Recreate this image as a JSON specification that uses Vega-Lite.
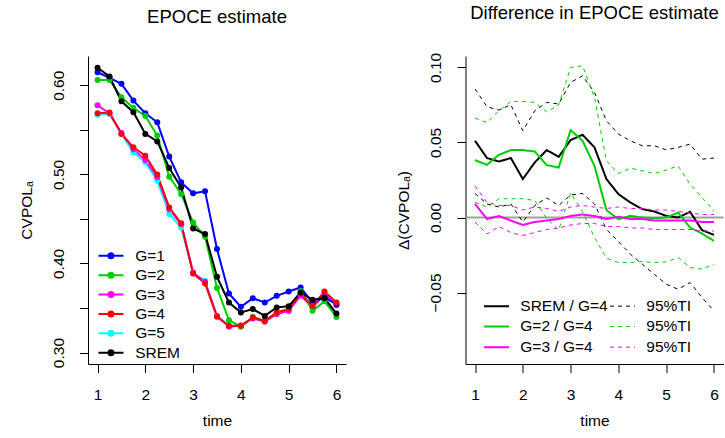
{
  "$schema": "https://vega.github.io/schema/vega-lite/v6.json",
  "padding": {"left": 19, "top": 3, "right": 0, "bottom": 0},
  "background": "white",
  "spacing": 119.5,
  "bounds": "flush",
  "resolve": {"scale": {"color": "independent", "strokeDash": "independent", "strokeWidth": "independent"}, "legend": {"color": "independent", "strokeDash": "independent", "strokeWidth": "independent"}},
  "datasets": {
    "L": [
      {"t":1,"g":"G=5","v":0.567},{"t":1.25,"g":"G=5","v":0.568},{"t":1.5,"g":"G=5","v":0.545},{"t":1.75,"g":"G=5","v":0.5247},{"t":2,"g":"G=5","v":0.5135},{"t":2.25,"g":"G=5","v":0.493},{"t":2.5,"g":"G=5","v":0.4555},{"t":2.75,"g":"G=5","v":0.4404},{"t":3,"g":"G=5","v":0.389},{"t":3.25,"g":"G=5","v":0.3806},{"t":3.5,"g":"G=5","v":0.341},{"t":3.75,"g":"G=5","v":0.33},{"t":4,"g":"G=5","v":0.33},{"t":4.25,"g":"G=5","v":0.339},{"t":4.5,"g":"G=5","v":0.335},{"t":4.75,"g":"G=5","v":0.344},{"t":5,"g":"G=5","v":0.348},{"t":5.25,"g":"G=5","v":0.367},{"t":5.5,"g":"G=5","v":0.352},{"t":5.75,"g":"G=5","v":0.367},{"t":6,"g":"G=5","v":0.356},
      {"t":1,"g":"G=3","v":0.5775},{"t":1.25,"g":"G=3","v":0.5683},{"t":1.5,"g":"G=3","v":0.5464},{"t":1.75,"g":"G=3","v":0.5283},{"t":2,"g":"G=3","v":0.516},{"t":2.25,"g":"G=3","v":0.4967},{"t":2.5,"g":"G=3","v":0.4609},{"t":2.75,"g":"G=3","v":0.444},{"t":3,"g":"G=3","v":0.3898},{"t":3.25,"g":"G=3","v":0.3795},{"t":3.5,"g":"G=3","v":0.3411},{"t":3.75,"g":"G=3","v":0.329},{"t":4,"g":"G=3","v":0.3305},{"t":4.25,"g":"G=3","v":0.3383},{"t":4.5,"g":"G=3","v":0.3346},{"t":4.75,"g":"G=3","v":0.343},{"t":5,"g":"G=3","v":0.3468},{"t":5.25,"g":"G=3","v":0.364},{"t":5.5,"g":"G=3","v":0.3505},{"t":5.75,"g":"G=3","v":0.3655},{"t":6,"g":"G=3","v":0.3532},
      {"t":1,"g":"G=1","v":0.6146},{"t":1.25,"g":"G=1","v":0.6083},{"t":1.5,"g":"G=1","v":0.6016},{"t":1.75,"g":"G=1","v":0.5828},{"t":2,"g":"G=1","v":0.5685},{"t":2.25,"g":"G=1","v":0.5584},{"t":2.5,"g":"G=1","v":0.52},{"t":2.75,"g":"G=1","v":0.491},{"t":3,"g":"G=1","v":0.4787},{"t":3.25,"g":"G=1","v":0.4809},{"t":3.5,"g":"G=1","v":0.4162},{"t":3.75,"g":"G=1","v":0.3663},{"t":4,"g":"G=1","v":0.3513},{"t":4.25,"g":"G=1","v":0.3611},{"t":4.5,"g":"G=1","v":0.3562},{"t":4.75,"g":"G=1","v":0.3637},{"t":5,"g":"G=1","v":0.3685},{"t":5.25,"g":"G=1","v":0.373},{"t":5.5,"g":"G=1","v":0.356},{"t":5.75,"g":"G=1","v":0.362},{"t":6,"g":"G=1","v":0.354},
      {"t":1,"g":"G=2","v":0.606},{"t":1.25,"g":"G=2","v":0.606},{"t":1.5,"g":"G=2","v":0.5865},{"t":1.75,"g":"G=2","v":0.5746},{"t":2,"g":"G=2","v":0.5656},{"t":2.25,"g":"G=2","v":0.5435},{"t":2.5,"g":"G=2","v":0.4974},{"t":2.75,"g":"G=2","v":0.478},{"t":3,"g":"G=2","v":0.446},{"t":3.25,"g":"G=2","v":0.43},{"t":3.5,"g":"G=2","v":0.3724},{"t":3.75,"g":"G=2","v":0.3364},{"t":4,"g":"G=2","v":0.329},{"t":4.25,"g":"G=2","v":0.34},{"t":4.5,"g":"G=2","v":0.3356},{"t":4.75,"g":"G=2","v":0.345},{"t":5,"g":"G=2","v":0.3488},{"t":5.25,"g":"G=2","v":0.369},{"t":5.5,"g":"G=2","v":0.347},{"t":5.75,"g":"G=2","v":0.3575},{"t":6,"g":"G=2","v":0.34},
      {"t":1,"g":"G=4","v":0.5685},{"t":1.25,"g":"G=4","v":0.5693},{"t":1.5,"g":"G=4","v":0.5454},{"t":1.75,"g":"G=4","v":0.5303},{"t":2,"g":"G=4","v":0.521},{"t":2.25,"g":"G=4","v":0.4997},{"t":2.5,"g":"G=4","v":0.4629},{"t":2.75,"g":"G=4","v":0.445},{"t":3,"g":"G=4","v":0.3888},{"t":3.25,"g":"G=4","v":0.3775},{"t":3.5,"g":"G=4","v":0.3401},{"t":3.75,"g":"G=4","v":0.33},{"t":4,"g":"G=4","v":0.33},{"t":4.25,"g":"G=4","v":0.3393},{"t":4.5,"g":"G=4","v":0.3356},{"t":4.75,"g":"G=4","v":0.345},{"t":5,"g":"G=4","v":0.3488},{"t":5.25,"g":"G=4","v":0.366},{"t":5.5,"g":"G=4","v":0.3525},{"t":5.75,"g":"G=4","v":0.3685},{"t":6,"g":"G=4","v":0.3562},
      {"t":1,"g":"SREM","v":0.6196},{"t":1.25,"g":"SREM","v":0.6098},{"t":1.5,"g":"SREM","v":0.582},{"t":1.75,"g":"SREM","v":0.5697},{"t":2,"g":"SREM","v":0.5454},{"t":2.25,"g":"SREM","v":0.537},{"t":2.5,"g":"SREM","v":0.5072},{"t":2.75,"g":"SREM","v":0.4854},{"t":3,"g":"SREM","v":0.4393},{"t":3.25,"g":"SREM","v":0.433},{"t":3.5,"g":"SREM","v":0.385},{"t":3.75,"g":"SREM","v":0.3562},{"t":4,"g":"SREM","v":0.345},{"t":4.25,"g":"SREM","v":0.3488},{"t":4.5,"g":"SREM","v":0.3412},{"t":4.75,"g":"SREM","v":0.3506},{"t":5,"g":"SREM","v":0.3521},{"t":5.25,"g":"SREM","v":0.3674},{"t":5.5,"g":"SREM","v":0.3592},{"t":5.75,"g":"SREM","v":0.3611},{"t":6,"g":"SREM","v":0.3438}
    ],
    "R": [
      {"t":1,"s":"a1","p":"m","v":0.0511},{"t":1.25,"s":"a1","p":"m","v":0.0396},{"t":1.5,"s":"a1","p":"m","v":0.0373},{"t":1.75,"s":"a1","p":"m","v":0.0396},{"t":2,"s":"a1","p":"m","v":0.0256},{"t":2.25,"s":"a1","p":"m","v":0.0367},{"t":2.5,"s":"a1","p":"m","v":0.0449},{"t":2.75,"s":"a1","p":"m","v":0.0404},{"t":3,"s":"a1","p":"m","v":0.0516},{"t":3.25,"s":"a1","p":"m","v":0.0551},{"t":3.5,"s":"a1","p":"m","v":0.0467},{"t":3.75,"s":"a1","p":"m","v":0.0256},{"t":4,"s":"a1","p":"m","v":0.0156},{"t":4.25,"s":"a1","p":"m","v":0.01},{"t":4.5,"s":"a1","p":"m","v":0.0056},{"t":4.75,"s":"a1","p":"m","v":0.004},{"t":5,"s":"a1","p":"m","v":0.0011},{"t":5.25,"s":"a1","p":"m","v":0.0},{"t":5.5,"s":"a1","p":"m","v":0.0038},{"t":5.75,"s":"a1","p":"m","v":-0.0084},{"t":6,"s":"a1","p":"m","v":-0.0116},
      {"t":1,"s":"b1","p":"u","v":0.0856},{"t":1.25,"s":"b1","p":"u","v":0.0738},{"t":1.5,"s":"b1","p":"u","v":0.0716},{"t":1.75,"s":"b1","p":"u","v":0.0751},{"t":2,"s":"b1","p":"u","v":0.0578},{"t":2.25,"s":"b1","p":"u","v":0.0711},{"t":2.5,"s":"b1","p":"u","v":0.0767},{"t":2.75,"s":"b1","p":"u","v":0.0756},{"t":3,"s":"b1","p":"u","v":0.09},{"t":3.25,"s":"b1","p":"u","v":0.0944},{"t":3.5,"s":"b1","p":"u","v":0.0833},{"t":3.75,"s":"b1","p":"u","v":0.0644},{"t":4,"s":"b1","p":"u","v":0.0556},{"t":4.25,"s":"b1","p":"u","v":0.0511},{"t":4.5,"s":"b1","p":"u","v":0.0478},{"t":4.75,"s":"b1","p":"u","v":0.0478},{"t":5,"s":"b1","p":"u","v":0.0451},{"t":5.25,"s":"b1","p":"u","v":0.0467},{"t":5.5,"s":"b1","p":"u","v":0.0489},{"t":5.75,"s":"b1","p":"u","v":0.0389},{"t":6,"s":"b1","p":"u","v":0.0396},
      {"t":1,"s":"b1","p":"l","v":0.016},{"t":1.25,"s":"b1","p":"l","v":0.009},{"t":1.5,"s":"b1","p":"l","v":0.007},{"t":1.75,"s":"b1","p":"l","v":0.009},{"t":2,"s":"b1","p":"l","v":-0.003},{"t":2.25,"s":"b1","p":"l","v":0.008},{"t":2.5,"s":"b1","p":"l","v":0.013},{"t":2.75,"s":"b1","p":"l","v":0.008},{"t":3,"s":"b1","p":"l","v":0.015},{"t":3.25,"s":"b1","p":"l","v":0.016},{"t":3.5,"s":"b1","p":"l","v":0.009},{"t":3.75,"s":"b1","p":"l","v":-0.008},{"t":4,"s":"b1","p":"l","v":-0.016},{"t":4.25,"s":"b1","p":"l","v":-0.0244},{"t":4.5,"s":"b1","p":"l","v":-0.0311},{"t":4.75,"s":"b1","p":"l","v":-0.0378},{"t":5,"s":"b1","p":"l","v":-0.0444},{"t":5.25,"s":"b1","p":"l","v":-0.0478},{"t":5.5,"s":"b1","p":"l","v":-0.0433},{"t":5.75,"s":"b1","p":"l","v":-0.0533},{"t":6,"s":"b1","p":"l","v":-0.0622},
      {"t":1,"s":"a2","p":"m","v":0.0382},{"t":1.25,"s":"a2","p":"m","v":0.0351},{"t":1.5,"s":"a2","p":"m","v":0.0418},{"t":1.75,"s":"a2","p":"m","v":0.0449},{"t":2,"s":"a2","p":"m","v":0.0449},{"t":2.25,"s":"a2","p":"m","v":0.044},{"t":2.5,"s":"a2","p":"m","v":0.0349},{"t":2.75,"s":"a2","p":"m","v":0.0333},{"t":3,"s":"a2","p":"m","v":0.0582},{"t":3.25,"s":"a2","p":"m","v":0.0511},{"t":3.5,"s":"a2","p":"m","v":0.0344},{"t":3.75,"s":"a2","p":"m","v":0.0049},{"t":4,"s":"a2","p":"m","v":-0.0011},{"t":4.25,"s":"a2","p":"m","v":0.0011},{"t":4.5,"s":"a2","p":"m","v":0.0},{"t":4.75,"s":"a2","p":"m","v":-0.0004},{"t":5,"s":"a2","p":"m","v":0.0},{"t":5.25,"s":"a2","p":"m","v":0.0033},{"t":5.5,"s":"a2","p":"m","v":-0.0067},{"t":5.75,"s":"a2","p":"m","v":-0.0107},{"t":6,"s":"a2","p":"m","v":-0.0156},
      {"t":1,"s":"b2","p":"u","v":0.0662},{"t":1.25,"s":"b2","p":"u","v":0.0633},{"t":1.5,"s":"b2","p":"u","v":0.0711},{"t":1.75,"s":"b2","p":"u","v":0.0773},{"t":2,"s":"b2","p":"u","v":0.0773},{"t":2.25,"s":"b2","p":"u","v":0.0767},{"t":2.5,"s":"b2","p":"u","v":0.0704},{"t":2.75,"s":"b2","p":"u","v":0.0749},{"t":3,"s":"b2","p":"u","v":0.1},{"t":3.25,"s":"b2","p":"u","v":0.1011},{"t":3.5,"s":"b2","p":"u","v":0.08},{"t":3.75,"s":"b2","p":"u","v":0.0378},{"t":4,"s":"b2","p":"u","v":0.0293},{"t":4.25,"s":"b2","p":"u","v":0.0329},{"t":4.5,"s":"b2","p":"u","v":0.0311},{"t":4.75,"s":"b2","p":"u","v":0.0293},{"t":5,"s":"b2","p":"u","v":0.0316},{"t":5.25,"s":"b2","p":"u","v":0.0344},{"t":5.5,"s":"b2","p":"u","v":0.0222},{"t":5.75,"s":"b2","p":"u","v":0.0133},{"t":6,"s":"b2","p":"u","v":0.0044},
      {"t":1,"s":"b2","p":"l","v":0.0102},{"t":1.25,"s":"b2","p":"l","v":0.007},{"t":1.5,"s":"b2","p":"l","v":0.0125},{"t":1.75,"s":"b2","p":"l","v":0.0125},{"t":2,"s":"b2","p":"l","v":0.0125},{"t":2.25,"s":"b2","p":"l","v":0.0113},{"t":2.5,"s":"b2","p":"l","v":-0.0006},{"t":2.75,"s":"b2","p":"l","v":-0.0083},{"t":3,"s":"b2","p":"l","v":0.0164},{"t":3.25,"s":"b2","p":"l","v":0.004},{"t":3.5,"s":"b2","p":"l","v":-0.0134},{"t":3.75,"s":"b2","p":"l","v":-0.0271},{"t":4,"s":"b2","p":"l","v":-0.03},{"t":4.25,"s":"b2","p":"l","v":-0.03},{"t":4.5,"s":"b2","p":"l","v":-0.0293},{"t":4.75,"s":"b2","p":"l","v":-0.03},{"t":5,"s":"b2","p":"l","v":-0.0296},{"t":5.25,"s":"b2","p":"l","v":-0.0267},{"t":5.5,"s":"b2","p":"l","v":-0.0333},{"t":5.75,"s":"b2","p":"l","v":-0.0344},{"t":6,"s":"b2","p":"l","v":-0.0311},
      {"t":1,"s":"a3","p":"m","v":0.009},{"t":1.25,"s":"a3","p":"m","v":-0.001},{"t":1.5,"s":"a3","p":"m","v":0.001},{"t":1.75,"s":"a3","p":"m","v":-0.002},{"t":2,"s":"a3","p":"m","v":-0.005},{"t":2.25,"s":"a3","p":"m","v":-0.003},{"t":2.5,"s":"a3","p":"m","v":-0.002},{"t":2.75,"s":"a3","p":"m","v":-0.001},{"t":3,"s":"a3","p":"m","v":0.001},{"t":3.25,"s":"a3","p":"m","v":0.002},{"t":3.5,"s":"a3","p":"m","v":0.001},{"t":3.75,"s":"a3","p":"m","v":-0.001},{"t":4,"s":"a3","p":"m","v":0.0005},{"t":4.25,"s":"a3","p":"m","v":-0.001},{"t":4.5,"s":"a3","p":"m","v":-0.001},{"t":4.75,"s":"a3","p":"m","v":-0.002},{"t":5,"s":"a3","p":"m","v":-0.002},{"t":5.25,"s":"a3","p":"m","v":-0.002},{"t":5.5,"s":"a3","p":"m","v":-0.002},{"t":5.75,"s":"a3","p":"m","v":-0.003},{"t":6,"s":"a3","p":"m","v":-0.003},
      {"t":1,"s":"b3","p":"u","v":0.021},{"t":1.25,"s":"b3","p":"u","v":0.01},{"t":1.5,"s":"b3","p":"u","v":0.008},{"t":1.75,"s":"b3","p":"u","v":0.008},{"t":2,"s":"b3","p":"u","v":0.005},{"t":2.25,"s":"b3","p":"u","v":0.007},{"t":2.5,"s":"b3","p":"u","v":0.006},{"t":2.75,"s":"b3","p":"u","v":0.004},{"t":3,"s":"b3","p":"u","v":0.007},{"t":3.25,"s":"b3","p":"u","v":0.008},{"t":3.5,"s":"b3","p":"u","v":0.007},{"t":3.75,"s":"b3","p":"u","v":0.006},{"t":4,"s":"b3","p":"u","v":0.007},{"t":4.25,"s":"b3","p":"u","v":0.006},{"t":4.5,"s":"b3","p":"u","v":0.006},{"t":4.75,"s":"b3","p":"u","v":0.005},{"t":5,"s":"b3","p":"u","v":0.005},{"t":5.25,"s":"b3","p":"u","v":0.004},{"t":5.5,"s":"b3","p":"u","v":0.003},{"t":5.75,"s":"b3","p":"u","v":0.002},{"t":6,"s":"b3","p":"u","v":0.002},
      {"t":1,"s":"b3","p":"l","v":-0.003},{"t":1.25,"s":"b3","p":"l","v":-0.011},{"t":1.5,"s":"b3","p":"l","v":-0.006},{"t":1.75,"s":"b3","p":"l","v":-0.01},{"t":2,"s":"b3","p":"l","v":-0.012},{"t":2.25,"s":"b3","p":"l","v":-0.01},{"t":2.5,"s":"b3","p":"l","v":-0.008},{"t":2.75,"s":"b3","p":"l","v":-0.007},{"t":3,"s":"b3","p":"l","v":-0.005},{"t":3.25,"s":"b3","p":"l","v":-0.004},{"t":3.5,"s":"b3","p":"l","v":-0.004},{"t":3.75,"s":"b3","p":"l","v":-0.006},{"t":4,"s":"b3","p":"l","v":-0.006},{"t":4.25,"s":"b3","p":"l","v":-0.007},{"t":4.5,"s":"b3","p":"l","v":-0.007},{"t":4.75,"s":"b3","p":"l","v":-0.008},{"t":5,"s":"b3","p":"l","v":-0.008},{"t":5.25,"s":"b3","p":"l","v":-0.008},{"t":5.5,"s":"b3","p":"l","v":-0.008},{"t":5.75,"s":"b3","p":"l","v":-0.009},{"t":6,"s":"b3","p":"l","v":-0.009}
    ]
  },
  "hconcat": [
    {
      "width": 258,
      "height": 308,
      "title": {"text": "EPOCE estimate"},
      "data": {"name": "L"},
      "encoding": {
        "x": {"field": "t", "type": "quantitative", "scale": {"domain": [0.8, 6.2], "nice": false, "zero": false}, "axis": {"values": [1, 2, 3, 4, 5, 6], "format": "d", "title": "time"}},
        "y": {"field": "v", "type": "quantitative", "scale": {"domain": [0.2872, 0.6328], "nice": false, "zero": false}, "axis": {"values": [0.3, 0.35, 0.4, 0.45, 0.5, 0.55, 0.6], "labelExpr": "round(datum.value*20) % 2 == 0 ? format(datum.value, '.2f') : ''", "title": "CVPOLₐ"}},
        "color": {
          "field": "g", "type": "nominal",
          "scale": {"domain": ["G=1", "G=2", "G=3", "G=4", "G=5", "SREM"], "range": ["#0000FF", "#00CD00", "#FF00FF", "#FF0000", "#00FFFF", "#000000"]},
          "legend": {
            "title": null, "orient": "bottom-left", "offset": 2.3, "padding": 0,
            "symbolOffset": 13.2, "labelOffset": 16.5, "rowPadding": 2.4,
            "symbolType": "M-2.5,0H2.5M-0.5,0A0.5,0.5,0,1,1,0.5,0A0.5,0.5,0,1,1,-0.5,0Z",
            "symbolSize": 100, "symbolStrokeWidth": 2,
            "labelFont": "Liberation Sans", "labelFontSize": 15.5, "labelColor": "#000000"
          }
        }
      },
      "layer": [
        {"mark": {"type": "line", "strokeWidth": 2}},
        {"mark": {"type": "point", "filled": true, "size": 36, "opacity": 1, "strokeWidth": 0}}
      ]
    },
    {
      "width": 258,
      "height": 308,
      "title": {"text": "Difference in EPOCE estimate"},
      "layer": [
        {
          "data": {"values": [{"h": 0}]},
          "mark": {"type": "rule", "color": "#A0A0A0", "strokeWidth": 2},
          "encoding": {
            "y": {"field": "h", "type": "quantitative", "scale": {"domain": [-0.0976, 0.1076], "nice": false, "zero": false}, "axis": {"values": [-0.05, 0, 0.05, 0.1], "format": ".2f", "title": "Δ(CVPOLₐ)"}}
          }
        },
        {
          "data": {"name": "R"},
          "mark": {"type": "line"},
          "encoding": {
            "x": {"field": "t", "type": "quantitative", "scale": {"domain": [0.8, 6.2], "nice": false, "zero": false}, "axis": {"values": [1, 2, 3, 4, 5, 6], "format": "d", "title": "time"}},
            "y": {"field": "v", "type": "quantitative", "scale": {"domain": [-0.0976, 0.1076], "nice": false, "zero": false}, "axis": {"values": [-0.05, 0, 0.05, 0.1], "format": ".2f", "title": "Δ(CVPOLₐ)"}},
            "detail": {"field": "p"},
            "color": {
              "field": "s", "type": "nominal",
              "scale": {"domain": ["a1", "a2", "a3", "b1", "b2", "b3"], "range": ["#000000", "#00CD00", "#FF00FF", "#000000", "#00CD00", "#FF00FF"]},
              "legend": {
                "title": null, "orient": "none", "legendX": 23.3, "legendY": 242, "padding": 0, "columns": 2, "columnPadding": 0,
                "symbolOffset": 0, "labelOffset": 16, "rowPadding": 3.7,
                "symbolType": "M-2.5,0H2.5", "symbolSize": 100,
                "labelFont": "Liberation Sans", "labelFontSize": 15.5, "labelColor": "#000000",
                "labelExpr": "datum.value == 'a1' ? 'SREM / G=4' : datum.value == 'a2' ? 'G=2 / G=4' : datum.value == 'a3' ? 'G=3 / G=4' : '95%TI'"
              }
            },
            "strokeDash": {"field": "s", "type": "nominal", "scale": {"type": "ordinal", "domain": ["a1", "a2", "a3", "b1", "b2", "b3"], "range": [[1, 0], [1, 0], [1, 0], [4, 4], [4, 4], [4, 4]]}},
            "strokeWidth": {"field": "s", "type": "nominal", "scale": {"type": "ordinal", "domain": ["a1", "a2", "a3", "b1", "b2", "b3"], "range": [2, 2, 2, 1, 1, 1]}}
          }
        }
      ]
    }
  ],
  "config": {
    "view": {"stroke": null},
    "font": "Liberation Sans",
    "axis": {"grid": false, "domainColor": "#000000", "domainWidth": 1, "tickColor": "#000000", "tickWidth": 1, "tickSize": 8.5, "labelFont": "Liberation Sans", "labelFontSize": 15.5, "labelColor": "#000000", "titleFont": "Liberation Sans", "titleFontSize": 15.5, "titleFontWeight": "normal", "titleColor": "#000000", "labelFlush": false, "labelOverlap": false},
    "axisX": {"labelPadding": 15, "titlePadding": 10},
    "axisY": {"labelAngle": -90, "labelAlign": "center", "labelBaseline": "alphabetic", "labelPadding": 16.5, "titlePadding": 20, "titleBaseline": "alphabetic"},
    "title": {"font": "Liberation Sans", "fontSize": 18.5, "fontWeight": "normal", "color": "#000000", "frame": "group", "anchor": "middle", "baseline": "alphabetic", "offset": 30}
  }
}
